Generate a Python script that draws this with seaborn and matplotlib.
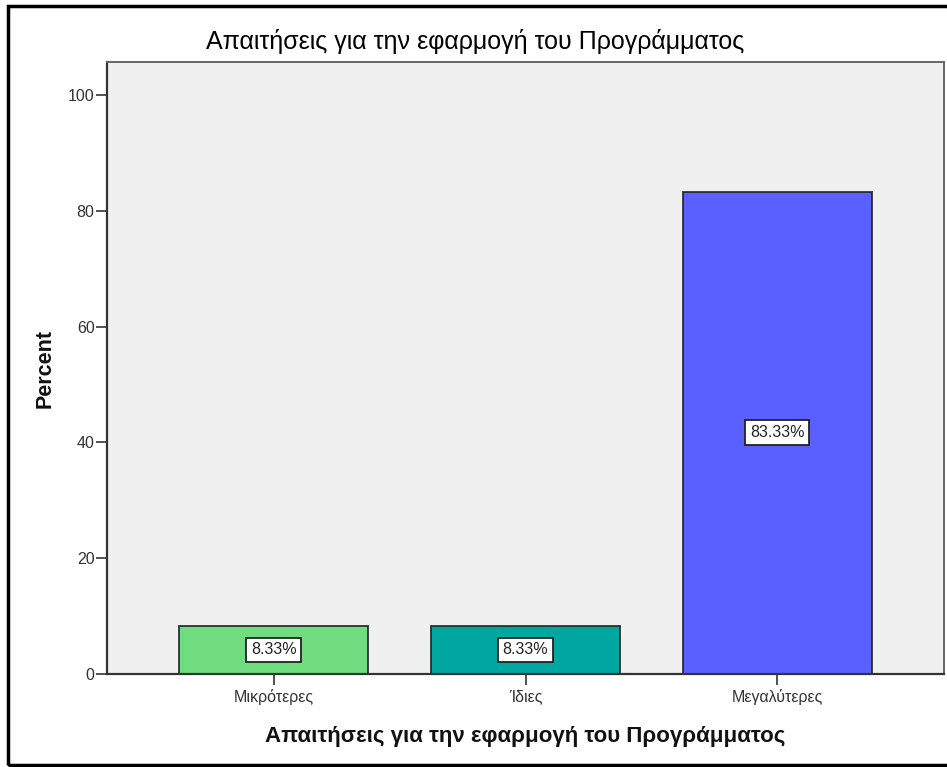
import matplotlib
matplotlib.use("Agg")
import matplotlib.pyplot as plt
import seaborn as sns
import pandas as pd
from matplotlib.patches import Rectangle

categories = ["Μικρότερες", "Ίδιες", "Μεγαλύτερες"]
percent = [8.33, 8.33, 83.33]
bar_colors = ["#6fdc80", "#00a6a0", "#5a5fff"]
y_ticks = [0, 20, 40, 60, 80, 100]
title_text = "Απαιτήσεις για την εφαρμογή του Προγράμματος"
x_label = "Απαιτήσεις για την εφαρμογή του Προγράμματος"
y_label = "Percent"

sns.set_theme(style="white")
plt.rcParams['font.family'] = ['Liberation Sans', 'DejaVu Sans']

df = pd.DataFrame({"cat": categories, "pct": percent})

W, H = 947, 767
fig = plt.figure(figsize=(W / 100, H / 100), dpi=100)
fig.patch.set_facecolor("white")
ax = fig.add_axes([107 / W, 1 - 674 / H, (944 - 107) / W, (674 - 62) / H])
ax.set_facecolor("#f0f0f0")

sns.barplot(data=df, x="cat", y="pct", hue="cat", palette=bar_colors,
            order=categories, hue_order=categories, legend=False,
            width=0.75, edgecolor="#222222", linewidth=1.2, saturation=1, ax=ax)

for i, v in enumerate(percent):
    ax.text(i, v / 2, f"{v:.2f}%", ha="center", va="center", fontsize=11.5,
            color="#222222",
            bbox=dict(boxstyle="square,pad=0.3", fc="white", ec="#222222", lw=1.3))

ax.set_xlim(-0.663, 2.663)
ax.set_ylim(0, 105.7)
ax.set_yticks(y_ticks)
ax.set_yticklabels([str(t) for t in y_ticks])
ax.tick_params(axis="y", length=8, width=1.2, color="#333333", labelsize=11.5,
               labelcolor="#333333", pad=1, left=True)
ax.tick_params(axis="x", length=8, width=1.2, color="#333333", labelsize=11.5,
               labelcolor="#333333", pad=3, bottom=True)

for s in ["left", "bottom"]:
    ax.spines[s].set_color("#333333")
    ax.spines[s].set_linewidth(1.6)
for s in ["top", "right"]:
    ax.spines[s].set_color("#666666")
    ax.spines[s].set_linewidth(1.4)

ax.set_xlabel(x_label, fontsize=16, fontweight="bold", color="#111111", labelpad=15)
ax.set_ylabel(y_label, fontsize=15.5, fontweight="bold", color="#111111", labelpad=9)
fig.text(475 / W, 1 - 41 / H, title_text, ha="center", va="center",
         fontsize=18, color="#000000")

fig.add_artist(Rectangle((8 / W, 1 - 765 / H), 1.2, (765 - 6) / H,
                         transform=fig.transFigure, fill=False, ec="black",
                         lw=2.5, clip_on=False))

fig.savefig("out.png", dpi=100)
